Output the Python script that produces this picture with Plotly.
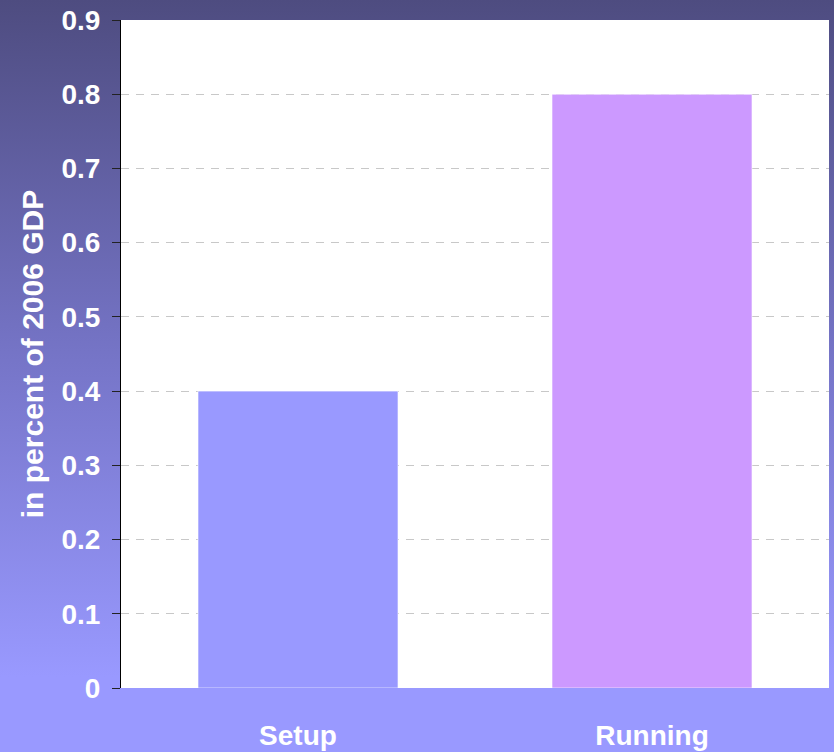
import base64
import plotly.graph_objects as go

categories = ["Setup", "Running"]
values = [0.4, 0.8]
bar_colors = ["#9999ff", "#cc99ff"]
y_ticks = [0, 0.1, 0.2, 0.3, 0.4, 0.5, 0.6, 0.7, 0.8, 0.9]
y_tick_labels = ["0", "0.1", "0.2", "0.3", "0.4", "0.5", "0.6", "0.7", "0.8", "0.9"]
y_title = "in percent of 2006 GDP"

W, H = 834, 752
ML, MR, MT, MB = 121, 5, 20, 64
PW, PH = W - ML - MR, H - MT - MB

svg = f'''<svg xmlns="http://www.w3.org/2000/svg" width="{W}" height="{H}" viewBox="0 0 {W} {H}" preserveAspectRatio="none">
<defs><linearGradient id="g" x1="0" y1="0" x2="0" y2="1">
<stop offset="0" stop-color="#4e4c80"/>
<stop offset="0.48" stop-color="#7675c8"/>
<stop offset="0.9" stop-color="#9999ff"/>
<stop offset="1" stop-color="#9999ff"/>
</linearGradient></defs>
<rect x="0" y="0" width="{W}" height="{H}" fill="url(#g)"/>
</svg>'''
bg_uri = "data:image/svg+xml;base64," + base64.b64encode(svg.encode()).decode()

font_bold = dict(family="Liberation Sans, Arial, sans-serif", size=28, color="white", weight="bold")

fig = go.Figure()
fig.add_trace(go.Bar(
    x=categories, y=values,
    marker=dict(color=bar_colors, line=dict(color="rgba(255,255,255,0.6)", width=1)),
    width=0.565,
    hoverinfo="x+y",
))

fig.update_layout(
    width=W, height=H,
    margin=dict(l=ML, r=MR, t=MT, b=MB, pad=0, autoexpand=False),
    paper_bgcolor="#9999ff",
    plot_bgcolor="white",
    showlegend=False,
    images=[dict(source=bg_uri, xref="paper", yref="paper",
                 x=-ML / PW, y=1 + MT / PH, sizex=W / PW, sizey=H / PH,
                 xanchor="left", yanchor="top", sizing="stretch", layer="below")],
    shapes=[dict(type="rect", xref="paper", yref="paper", x0=0, x1=1, y0=0, y1=1,
                 fillcolor="white", line=dict(width=0), layer="below")],
    xaxis=dict(
        automargin=False,
        showgrid=False, showline=False, zeroline=False,
        ticks="", tickfont=font_bold, ticklabelstandoff=28,
    ),
    yaxis=dict(
        automargin=False,
        range=[0, 0.9],
        tickvals=y_ticks, ticktext=y_tick_labels,
        showgrid=True, gridcolor="#c8c8c8", griddash="8px,7px", gridwidth=1,
        zeroline=False,
        showline=True, linecolor="black", linewidth=1,
        ticks="outside", ticklen=8, tickcolor="#222222", tickwidth=1,
        tickfont=font_bold, ticklabelstandoff=6,
        title=dict(text=y_title, font=dict(family="Liberation Sans, Arial, sans-serif", size=30, color="white", weight="bold"), standoff=8),
    ),
)

fig.write_html("out.html")
